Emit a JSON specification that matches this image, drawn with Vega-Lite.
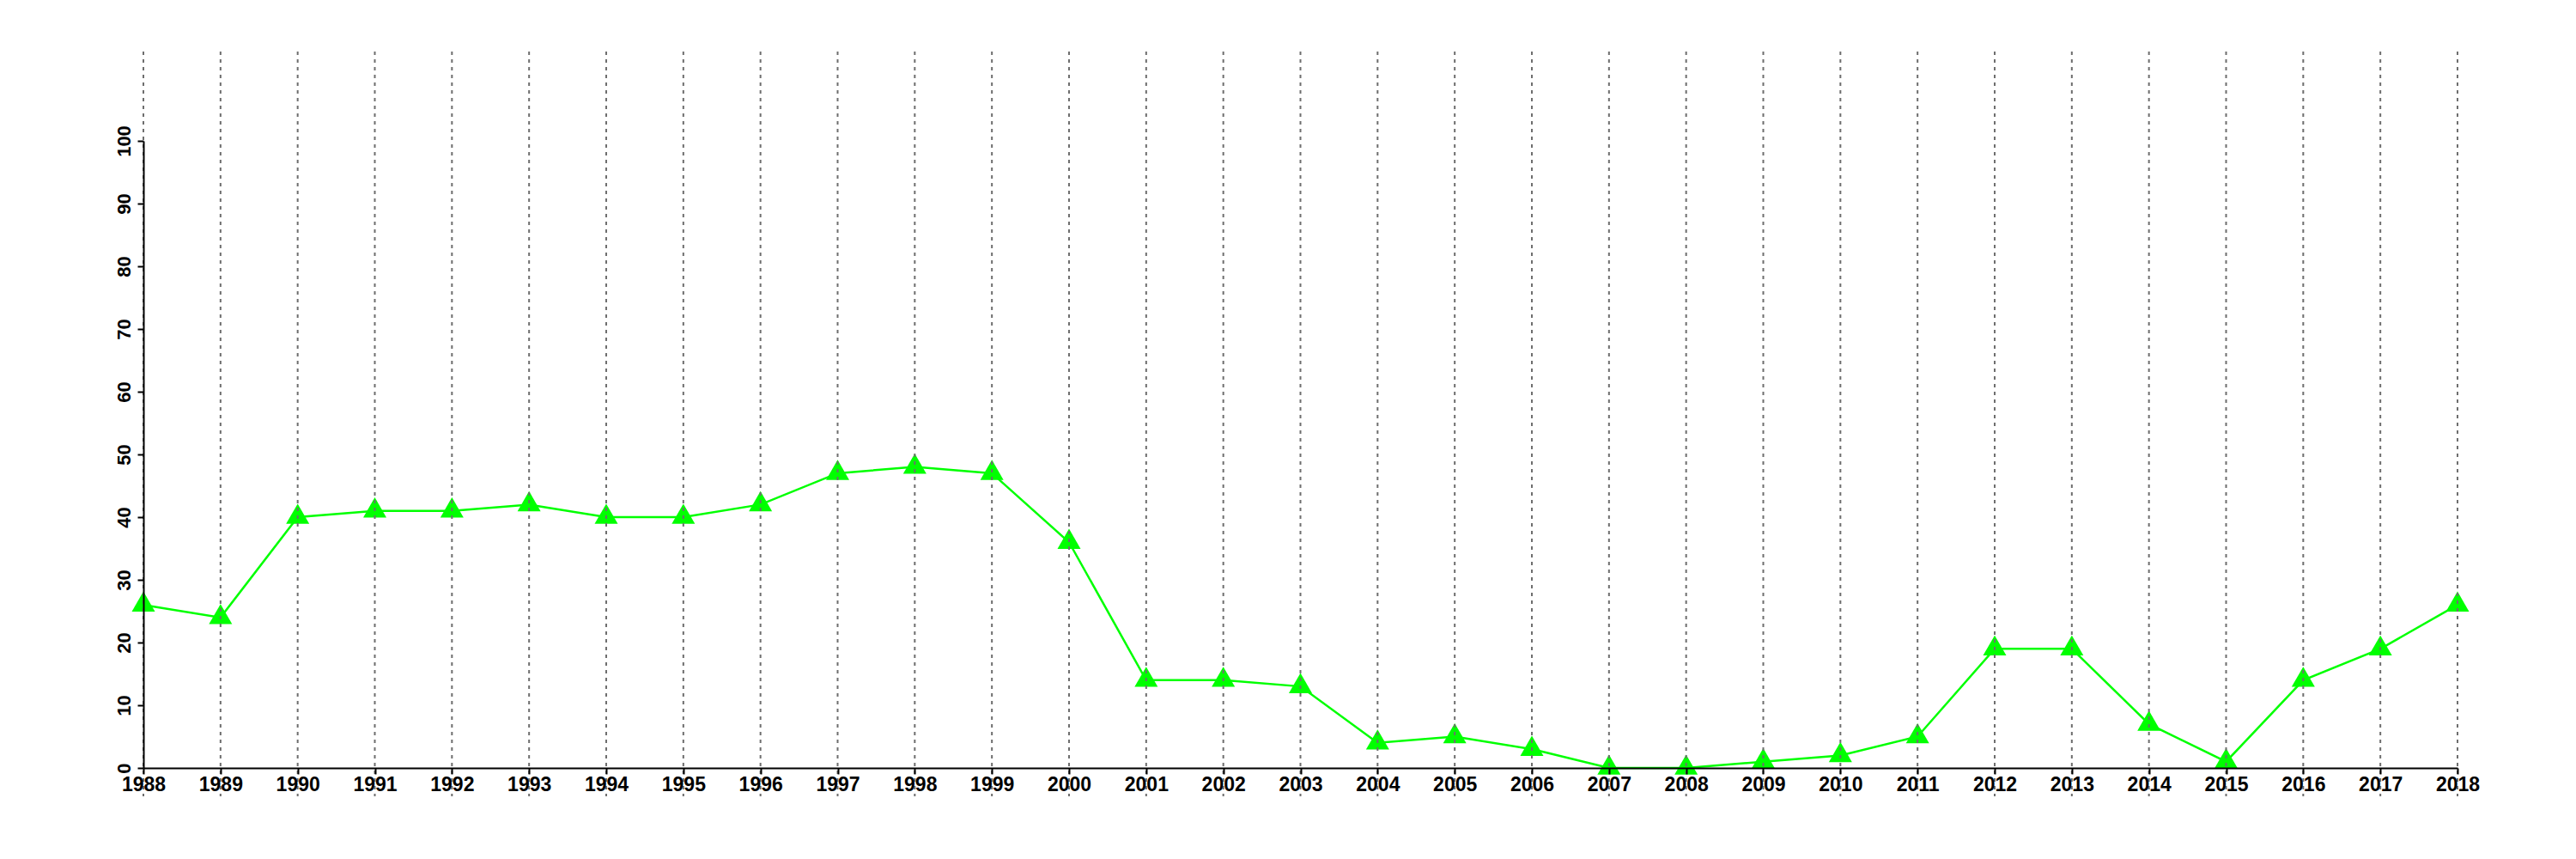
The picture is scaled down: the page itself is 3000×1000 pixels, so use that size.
{
  "$schema": "https://vega.github.io/schema/vega-lite/v6.json",
  "width": 2695,
  "height": 730,
  "autosize": {"type": "none"},
  "padding": {"left": 167, "top": 164, "right": 138, "bottom": 106},
  "background": "white",
  "config": {"view": {"stroke": null}},
  "data": {
    "values": [
      {"year": 1988, "value": 26},
      {"year": 1989, "value": 24},
      {"year": 1990, "value": 40},
      {"year": 1991, "value": 41},
      {"year": 1992, "value": 41},
      {"year": 1993, "value": 42},
      {"year": 1994, "value": 40},
      {"year": 1995, "value": 40},
      {"year": 1996, "value": 42},
      {"year": 1997, "value": 47},
      {"year": 1998, "value": 48},
      {"year": 1999, "value": 47},
      {"year": 2000, "value": 36},
      {"year": 2001, "value": 14},
      {"year": 2002, "value": 14},
      {"year": 2003, "value": 13},
      {"year": 2004, "value": 4},
      {"year": 2005, "value": 5},
      {"year": 2006, "value": 3},
      {"year": 2007, "value": 0},
      {"year": 2008, "value": 0},
      {"year": 2009, "value": 1},
      {"year": 2010, "value": 2},
      {"year": 2011, "value": 5},
      {"year": 2012, "value": 19},
      {"year": 2013, "value": 19},
      {"year": 2014, "value": 7},
      {"year": 2015, "value": 1},
      {"year": 2016, "value": 14},
      {"year": 2017, "value": 19},
      {"year": 2018, "value": 26}
    ]
  },
  "encoding": {
    "x": {
      "field": "year", "type": "quantitative",
      "scale": {"domain": [1988, 2018], "nice": false, "zero": false},
      "axis": {
        "title": null, "grid": false, "zindex": 1,
        "values": [1988,1989,1990,1991,1992,1993,1994,1995,1996,1997,1998,1999,2000,2001,2002,2003,2004,2005,2006,2007,2008,2009,2010,2011,2012,2013,2014,2015,2016,2017,2018],
        "format": "d",
        "labelFont": "Liberation Sans", "labelFontWeight": "bold", "labelFontSize": 23,
        "labelColor": "black", "labelFlush": false, "labelOverlap": false, "labelBound": false,
        "labelPadding": 1,
        "tickSize": 7, "tickWidth": 2, "tickColor": "black",
        "domainColor": "black", "domainWidth": 2
      }
    },
    "y": {
      "field": "value", "type": "quantitative",
      "scale": {"domain": [0, 100], "nice": false},
      "axis": {
        "title": null, "grid": false, "zindex": 1,
        "values": [0,10,20,30,40,50,60,70,80,90,100],
        "labelAngle": -90, "labelAlign": "center", "labelBaseline": "bottom",
        "labelFont": "Liberation Sans", "labelFontWeight": "bold", "labelFontSize": 22,
        "labelColor": "black", "labelFlush": false, "labelOverlap": false, "labelBound": false,
        "labelPadding": 4,
        "tickSize": 7, "tickWidth": 2, "tickColor": "black",
        "domainColor": "black", "domainWidth": 2
      }
    }
  },
  "layer": [
    {
      "mark": {"type": "line", "color": "#00ff00", "strokeWidth": 2.5}
    },
    {
      "mark": {
        "type": "point", "filled": true, "opacity": 1, "color": "#00ff00", "strokeWidth": 0,
        "shape": "M0,-1.155L-1,0.577L1,0.577Z", "size": 729
      }
    },
    {
      "mark": {"type": "rule", "color": "#6e6e6e", "strokeWidth": 2, "strokeDash": [4, 5]},
      "encoding": {
        "y": {
          "datum": 114.25, "type": "quantitative",
          "axis": {
            "title": null, "grid": false, "zindex": 1,
            "values": [0,10,20,30,40,50,60,70,80,90,100],
            "labelAngle": -90, "labelAlign": "center", "labelBaseline": "bottom",
            "labelFont": "Liberation Sans", "labelFontWeight": "bold", "labelFontSize": 22,
            "labelColor": "black", "labelFlush": false, "labelOverlap": false, "labelBound": false,
            "labelPadding": 4,
            "tickSize": 7, "tickWidth": 2, "tickColor": "black",
            "domainColor": "black", "domainWidth": 2
          }
        },
        "y2": {"datum": -4.52}
      }
    }
  ]
}
